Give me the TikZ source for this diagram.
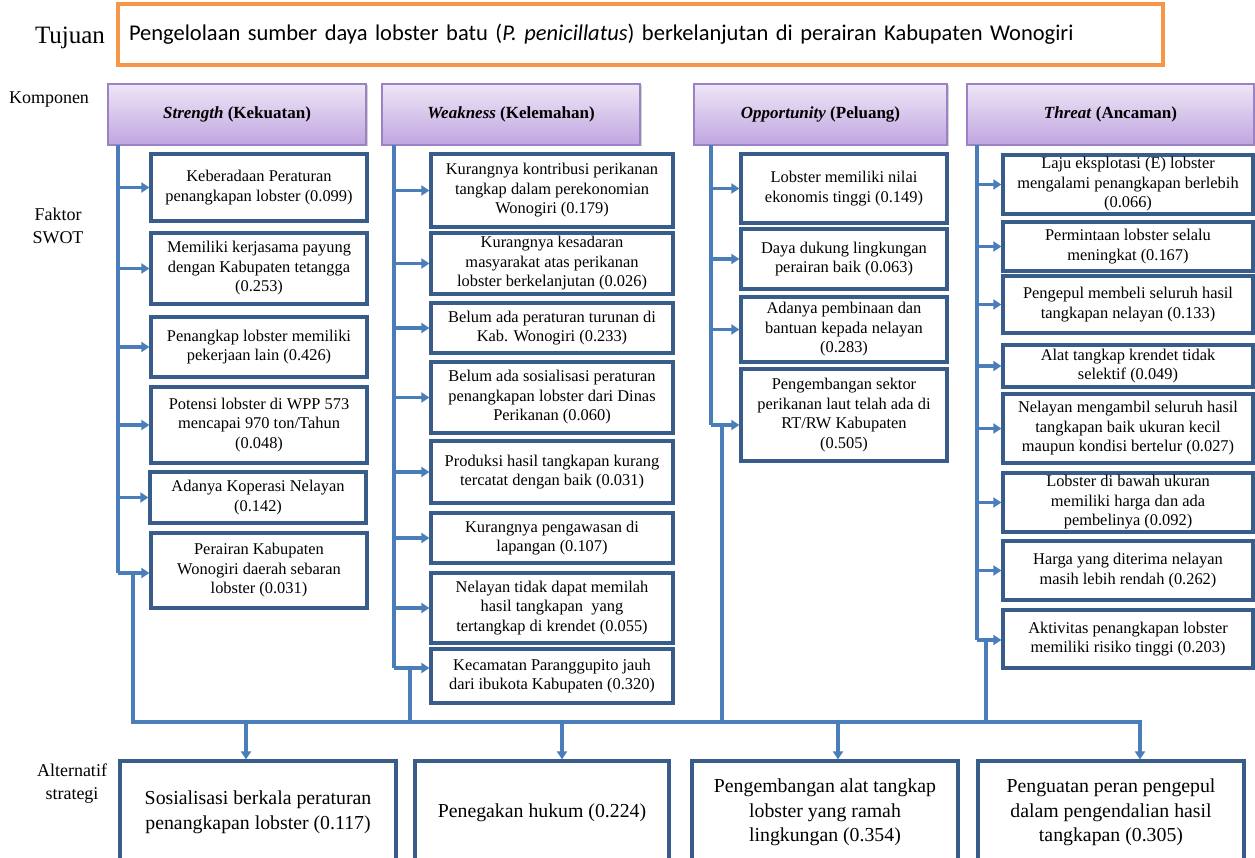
\documentclass[tikz,border=0pt]{standalone}
\usepackage{fontspec}
\setmainfont{Liberation Serif}
\newfontfamily\calibri{Carlito}
\usetikzlibrary{arrows.meta,shadows}
\definecolor{conn}{HTML}{4A7EBB}
\definecolor{bbord}{HTML}{385D8A}
\definecolor{orng}{HTML}{F79646}
\definecolor{hdtop}{HTML}{EEE6F6}
\definecolor{hdbot}{HTML}{C0A5E0}
\definecolor{hdbord}{HTML}{9B82C4}
\begin{document}
\begin{tikzpicture}[x=1pt,y=-1pt,
 fbox/.style={draw=bbord,line width=3.2pt,fill=white,inner sep=1pt,align=center,font=\fontsize{16.4}{19.5}\selectfont},
 hdr/.style={draw=hdbord,line width=1.5pt,top color=hdtop,bottom color=hdbot,minimum height=61pt,font=\fontsize{17}{20}\selectfont\bfseries,drop shadow={shadow xshift=1.5pt,shadow yshift=-1.5pt,opacity=0.35}},
 abox/.style={draw=bbord,line width=3.2pt,fill=white,align=center,minimum height=103pt,font=\fontsize{19.8}{24.5}\selectfont},
 wire/.style={draw=conn,line width=3.5pt},
 arr/.style={wire,-{Triangle[length=8pt,width=10pt]}},
 lbl/.style={align=center,font=\fontsize{18}{23}\selectfont}]
\useasboundingbox (0,0) rectangle (1255,858);
\clip (0,0) rectangle (1255,858);
\fill[white] (0,0) rectangle (1255,858);

% goal
\node[font=\fontsize{25}{28}\selectfont] (tuj) at (70,38) {Tujuan};
\node[draw=orng,line width=3.5pt,minimum height=61pt,text width=1023pt,inner xsep=11pt,align=left,
      font=\calibri\fontsize{22.5}{26}\selectfont] (goal) at (640.5,34.5)
  {Pengelolaan sumber daya lobster batu (\textit{P. penicillatus}) berkelanjutan di perairan Kabupaten Wonogiri};

% left labels
\node[lbl] (komp) at (49,100) {Komponen};
\node[lbl] (fakt) at (58,226) {Faktor\\SWOT};
\node[lbl] (alt) at (72,784) {Alternatif\\strategi};

% headers
\node[hdr,minimum width=258pt] (hS) at (237,114.5) {\textit{Strength} (Kekuatan)};
\node[hdr,minimum width=258pt] (hW) at (511,114.5) {\textit{Weakness} (Kelemahan)};
\node[hdr,minimum width=253pt] (hO) at (820.5,114.5) {\textit{Opportunity} (Peluang)};
\node[hdr,minimum width=287pt] (hT) at (1110.5,114.5) {\textit{Threat} (Ancaman)};

% Strength boxes
\begin{scope}[every node/.append style={fbox,minimum width=216pt}]
\node[minimum height=67pt] (s1) at (259,187.5) {Keberadaan Peraturan\\penangkapan lobster (0.099)};
\node[minimum height=71pt] (s2) at (259,268.5) {Memiliki kerjasama payung\\dengan Kabupaten tetangga\\(0.253)};
\node[minimum height=60pt] (s3) at (259,347) {Penangkap lobster memiliki\\pekerjaan lain (0.426)};
\node[minimum height=76pt] (s4) at (259,425) {Potensi lobster di WPP 573\\mencapai 970 ton/Tahun\\(0.048)};
\node[minimum height=51pt] (s5) at (258,497.5) {Adanya Koperasi Nelayan\\(0.142)};
\node[minimum height=75pt] (s6) at (259,570.5) {Perairan Kabupaten\\Wonogiri daerah sebaran\\lobster (0.031)};
\end{scope}

% Weakness boxes
\begin{scope}[every node/.append style={fbox,minimum width=242pt}]
\node[minimum height=73pt] (w1) at (552,190.5) {Kurangnya kontribusi perikanan\\tangkap dalam perekonomian\\Wonogiri (0.179)};
\node[minimum height=61pt] (w2) at (552,263.5) {Kurangnya kesadaran\\masyarakat atas perikanan\\lobster berkelanjutan (0.026)};
\node[minimum height=50pt] (w3) at (552,328) {Belum ada peraturan turunan di\\Kab. Wonogiri (0.233)};
\node[minimum height=71pt] (w4) at (552,397.5) {Belum ada sosialisasi peraturan\\penangkapan lobster dari Dinas\\Perikanan (0.060)};
\node[minimum height=62pt] (w5) at (552,472) {Produksi hasil tangkapan kurang\\tercatat dengan baik (0.031)};
\node[minimum height=50pt] (w6) at (552,538) {Kurangnya pengawasan di\\lapangan (0.107)};
\node[minimum height=70pt] (w7) at (552,608) {Nelayan tidak dapat memilah\\hasil tangkapan\ \ yang\\tertangkap di krendet (0.055)};
\node[minimum height=54pt] (w8) at (552,676) {Kecamatan Paranggupito jauh\\dari ibukota Kabupaten (0.320)};
\end{scope}

% Opportunity boxes
\begin{scope}[every node/.append style={fbox,minimum width=206pt}]
\node[minimum height=69pt] (o1) at (844,188.5) {Lobster memiliki nilai\\ekonomis tinggi (0.149)};
\node[minimum height=60pt] (o2) at (844,259) {Daya dukung lingkungan\\perairan baik (0.063)};
\node[minimum height=65pt] (o3) at (844,329.5) {Adanya pembinaan dan\\bantuan kepada nelayan\\(0.283)};
\node[minimum height=92pt] (o4) at (844,415) {Pengembangan sektor\\perikanan laut telah ada di\\RT/RW Kabupaten\\(0.505)};
\end{scope}

% Threat boxes
\begin{scope}[every node/.append style={fbox,minimum width=250pt}]
\node[minimum height=59pt] (t1) at (1128,184.5) {Laju eksplotasi (E) lobster\\mengalami penangkapan berlebih\\(0.066)};
\node[minimum height=49pt] (t2) at (1128,246.5) {Permintaan lobster selalu\\meningkat (0.167)};
\node[minimum height=57pt] (t3) at (1128,304.5) {Pengepul membeli seluruh hasil\\tangkapan nelayan (0.133)};
\node[minimum height=42pt] (t4) at (1128,366) {Alat tangkap krendet tidak\\selektif (0.049)};
\node[minimum height=69pt] (t5) at (1128,428.5) {Nelayan mengambil seluruh hasil\\tangkapan baik ukuran kecil\\maupun kondisi bertelur (0.027)};
\node[minimum height=59pt] (t6) at (1128,502.5) {Lobster di bawah ukuran\\memiliki harga dan ada\\pembelinya (0.092)};
\node[minimum height=59pt] (t7) at (1128,570.5) {Harga yang diterima nelayan\\masih lebih rendah (0.262)};
\node[minimum height=58pt] (t8) at (1128,639) {Aktivitas penangkapan lobster\\memiliki risiko tinggi (0.203)};
\end{scope}

% alternative strategies
\node[abox,minimum width=276pt] (a1) at (258,812.5) {Sosialisasi berkala peraturan\\penangkapan lobster (0.117)};
\node[abox,minimum width=254pt] (a2) at (542,812.5) {Penegakan hukum (0.224)};
\node[abox,minimum width=266pt] (a3) at (825,812.5) {Pengembangan alat tangkap\\lobster yang ramah\\lingkungan (0.354)};
\node[abox,minimum width=266pt] (a4) at (1111,812.5) {Penguatan peran pengepul\\dalam pengendalian hasil\\tangkapan (0.305)};

% spine coordinates
\coordinate (pS) at (118,145);
\coordinate (pW) at (394,145);
\coordinate (pO) at (711,145);
\coordinate (pT) at (977,145);
\coordinate (busL) at (133,722);
\coordinate (busR) at (1140,722);
\coordinate (dS) at (133,573);
\coordinate (dW) at (410,668);
\coordinate (dO) at (722,425);
\coordinate (dT) at (986,640);
\coordinate (b1) at (246,722);
\coordinate (b2) at (562,722);
\coordinate (b3) at (838,722);

% Strength connectors
\draw[wire] (pS) -- (pS |- dS);
\foreach \n in {s1,s2,s3,s4,s5} \draw[arr] (pS |- \n.west) -- (\n.west);
\draw[arr] (pS |- dS) -- (dS -| s6.west);
% Weakness connectors
\draw[wire] (pW) -- (pW |- dW);
\foreach \n in {w1,w2,w3,w4,w5,w6,w7} \draw[arr] (pW |- \n.west) -- (\n.west);
\draw[arr] (pW |- dW) -- (dW -| w8.west);
% Opportunity connectors
\draw[wire] (pO) -- (pO |- dO);
\foreach \n in {o1,o2,o3} \draw[arr] (pO |- \n.west) -- (\n.west);
\draw[arr] (pO |- dO) -- (dO -| o4.west);
% Threat connectors
\draw[wire] (pT) -- (pT |- dT);
\foreach \n in {t1,t2,t3,t4,t5,t6,t7} \draw[arr] (pT |- \n.west) -- (\n.west);
\draw[arr] (pT |- dT) -- (dT -| t8.west);

% drops and bus
\draw[wire] (dW) -- (dW |- busL);
\draw[wire] (dO) -- (dO |- busL);
\draw[wire] (dT) -- (dT |- busL);
\draw[arr] (dS) -- (busL) -- (busR) -- (busR |- a4.north);
\draw[arr] (b1) -- (b1 |- a1.north);
\draw[arr] (b2) -- (b2 |- a2.north);
\draw[arr] (b3) -- (b3 |- a3.north);
\end{tikzpicture}
\end{document}
